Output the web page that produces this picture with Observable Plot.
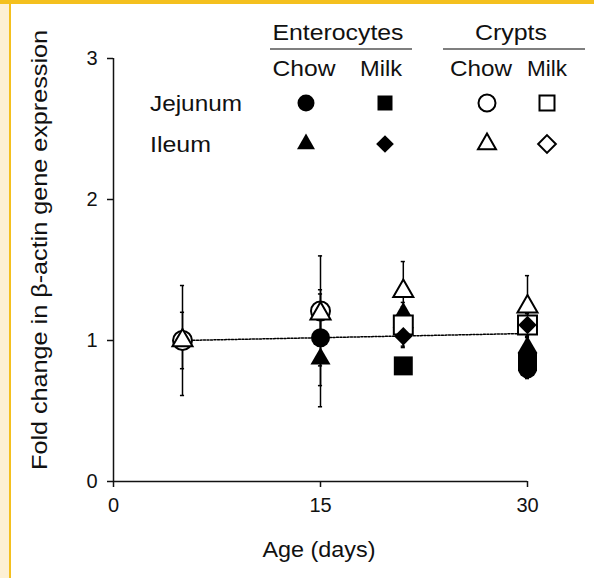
<!DOCTYPE html>
<html><head><meta charset="utf-8">
<script src="https://cdn.jsdelivr.net/npm/d3@7"></script>
<script src="https://cdn.jsdelivr.net/npm/@observablehq/plot@0.6"></script>
<style>
html,body{margin:0;padding:0;background:#fff;}
#wrap{position:relative;width:594px;height:578px;overflow:hidden;background:#fff;}
.deco{position:absolute;z-index:2;}
#chart{position:absolute;left:0;top:0;}
</style></head><body>
<div id="wrap">
  <div class="deco" style="left:0;top:0;width:9px;height:578px;background:#fdf0d4"></div>
  <div class="deco" style="left:9px;top:0;width:2px;height:578px;background:#f4c01e"></div>
  <div class="deco" style="left:0;top:0;width:594px;height:4px;background:#f4c01e"></div>
  <div id="chart"></div>
</div>
<script>
// ---- data ----
const ages = [5, 15, 21, 30];
const xTicks = [0, 15, 30];
const yTicks = [0, 1, 2, 3];

// mean fold change per age (null = not plotted)
const entChowJej = [null, 1.02, null, 0.80];
const entMilkJej = [null, null, 0.82, 0.85];
const cryChowJej = [1.00, 1.21, null, null];
const cryMilkJej = [null, null, 1.11, 1.11];
const entChowIle = [null, 0.87, 1.19, 0.95];
const entMilkIle = [null, null, 1.03, 1.11];
const cryChowIle = [1.00, 1.19, 1.35, 1.24];
const cryMilkIle = [null, null, 1.09, 1.10];

// error (SEM)
const entChowJejErr = [null, 0.34, null, 0.07];
const entMilkJejErr = [null, null, 0.04, 0.05];
const cryChowJejErr = [0.39, 0.39, null, null];
const cryMilkJejErr = [null, null, 0.16, 0.08];
const entChowIleErr = [null, 0.34, 0.05, 0.05];
const entMilkIleErr = [null, null, 0.07, 0.06];
const cryChowIleErr = [0.20, 0.14, 0.21, 0.22];
const cryMilkIleErr = [null, null, 0.05, 0.05];

// linear trend line
const trendAges = [5, 30];
const trendValues = [1.00, 1.05];

// text
const xLabel = "Age (days)";
const yLabel = "Fold change in \u03b2-actin gene expression";
const groups = ["Enterocytes", "Crypts"];
const diets = ["Chow", "Milk"];
const tissues = ["Jejunum", "Ileum"];

// ---- series definitions (draw order) ----
const series = [
  {group: "Crypts", diet: "Chow", tissue: "Jejunum", values: cryChowJej, errors: cryChowJejErr},
  {group: "Crypts", diet: "Chow", tissue: "Ileum", values: cryChowIle, errors: cryChowIleErr},
  {group: "Enterocytes", diet: "Chow", tissue: "Ileum", values: entChowIle, errors: entChowIleErr},
  {group: "Crypts", diet: "Milk", tissue: "Ileum", values: cryMilkIle, errors: cryMilkIleErr},
  {group: "Crypts", diet: "Milk", tissue: "Jejunum", values: cryMilkJej, errors: cryMilkJejErr},
  {group: "Enterocytes", diet: "Chow", tissue: "Jejunum", values: entChowJej, errors: entChowJejErr},
  {group: "Enterocytes", diet: "Milk", tissue: "Jejunum", values: entMilkJej, errors: entMilkJejErr},
  {group: "Enterocytes", diet: "Milk", tissue: "Ileum", values: entMilkIle, errors: entMilkIleErr}
];

// ---- styles ----
const FONT = "'Liberation Sans', Arial, Helvetica, sans-serif";
function shapeOf(s) {
  if (s.tissue === "Jejunum") return s.diet === "Chow" ? "circle" : "square";
  return s.diet === "Chow" ? "triangle" : "diamond2";
}
const plotR = {circle: 9.5, square: 10.7, triangle: 7.45, diamond2: 8.3};
const legendSize = {circle: 227, square: 225, triangle: 140, diamond2: 200};
const d3Sym = {circle: d3.symbolCircle, square: d3.symbolSquare, triangle: d3.symbolTriangle, diamond2: d3.symbolDiamond2};

const rows = [];
series.forEach((s, k) => {
  ages.forEach((a, i) => {
    if (s.values[i] != null) rows.push({k, age: a, value: s.values[i], err: s.errors[i] || 0});
  });
});
const trend = trendAges.map((a, i) => ({age: a, value: trendValues[i]}));

// ---- annotation / legend layer ----
function annotations(index, scales, values, dimensions) {
  const g = d3.create("svg:g").attr("font-family", FONT).attr("fill", "#111").attr("text-anchor", "middle");
  // y label
  g.append("text").attr("transform", "translate(47,250) rotate(-90)")
    .attr("text-anchor", "middle").attr("font-size", 22)
    .attr("textLength", 440).attr("lengthAdjust", "spacingAndGlyphs").text(yLabel);
  // x label
  g.append("text").attr("x", 319).attr("y", 557).attr("text-anchor", "middle")
    .attr("font-size", 22).attr("textLength", 113).attr("lengthAdjust", "spacingAndGlyphs").text(xLabel);
  // group headers
  const groupLayout = [
    {cx: 338, w: 131, l1: 270, l2: 412},
    {cx: 511, w: 72, l1: 443, l2: 585}
  ];
  const dietLayout = [
    [{cx: 304, w: 63}, {cx: 381, w: 42}],
    [{cx: 481, w: 62}, {cx: 547, w: 40}]
  ];
  const symX = [[306, 385], [487, 547]];
  const rowY = [103, 144];
  const tissueLayout = [{x: 150, w: 92}, {x: 150, w: 61}];
  groups.forEach((grp, gi) => {
    const L = groupLayout[gi];
    g.append("text").attr("x", L.cx).attr("y", 40).attr("text-anchor", "middle")
      .attr("font-size", 22).attr("textLength", L.w).attr("lengthAdjust", "spacingAndGlyphs").text(grp);
    g.append("line").attr("x1", L.l1).attr("x2", L.l2).attr("y1", 49).attr("y2", 49)
      .attr("stroke", "#555").attr("stroke-width", 1.5);
    diets.forEach((dt, di) => {
      const D = dietLayout[gi][di];
      g.append("text").attr("x", D.cx).attr("y", 76).attr("text-anchor", "middle")
        .attr("font-size", 22).attr("textLength", D.w).attr("lengthAdjust", "spacingAndGlyphs").text(dt);
      tissues.forEach((ts, ti) => {
        const s = series.find(q => q.group === grp && q.diet === dt && q.tissue === ts);
        const shp = shapeOf(s);
        const filled = grp === "Enterocytes";
        g.append("path").attr("transform", `translate(${symX[gi][di]},${rowY[ti]})`)
          .attr("d", d3.symbol(d3Sym[shp], legendSize[shp])())
          .attr("fill", filled ? "black" : "white")
          .attr("stroke", filled ? "none" : "black").attr("stroke-width", 2);
      });
    });
  });
  tissues.forEach((ts, ti) => {
    g.append("text").attr("x", tissueLayout[ti].x).attr("y", rowY[ti] + 8)
      .attr("text-anchor", "start")
      .attr("font-size", 22).attr("textLength", tissueLayout[ti].w).attr("lengthAdjust", "spacingAndGlyphs").text(ts);
  });
  return g.node();
}

const dotMarks = series.map((s, k) => {
  const shp = shapeOf(s);
  const filled = s.group === "Enterocytes";
  return Plot.dot(rows.filter(d => d.k === k), {
    x: "age", y: "value", symbol: shp, r: plotR[shp],
    fill: filled ? "black" : "white",
    stroke: filled ? "none" : "black", strokeWidth: 2
  });
});

const withErr = rows.filter(d => d.err > 0);

const chart = Plot.plot({
  width: 594, height: 578,
  marginLeft: 113, marginRight: 67, marginTop: 58, marginBottom: 97,
  style: {fontFamily: FONT, fontSize: "20px", color: "#111", background: "transparent"},
  x: {domain: [0, 30]},
  y: {domain: [0, 3]},
  marks: [
    Plot.axisY({ticks: yTicks, tickSize: 6, label: null, strokeWidth: 1.5, tickFormat: () => ""}),
    Plot.axisX({ticks: xTicks, tickSize: 6, label: null, strokeWidth: 1.5, tickFormat: () => ""}),
    Plot.text(yTicks, {x: 0, y: d => d, text: d => String(d), textAnchor: "end", dx: -16, fontSize: 20, fill: "#111"}),
    Plot.text(xTicks, {x: d => d, y: 0, text: d => String(d), frameAnchor: "bottom", lineAnchor: "top", dy: 16, fontSize: 20, fill: "#111"}),
    Plot.ruleX([0], {stroke: "#111", strokeWidth: 1.5}),
    Plot.ruleY([0], {stroke: "#111", strokeWidth: 1.5}),
    Plot.line(trend, {x: "age", y: "value", stroke: "black", strokeWidth: 1.5, strokeDasharray: "2,1.5"}),
    Plot.ruleX(withErr, {x: "age", y1: d => d.value - d.err, y2: d => d.value + d.err, stroke: "black", strokeWidth: 1.5}),
    Plot.ruleY(withErr, {y: d => d.value + d.err, x1: d => d.age - 0.15, x2: d => d.age + 0.15, stroke: "black", strokeWidth: 1.5}),
    Plot.ruleY(withErr, {y: d => d.value - d.err, x1: d => d.age - 0.15, x2: d => d.age + 0.15, stroke: "black", strokeWidth: 1.5}),
    ...dotMarks,
    annotations
  ]
});
document.getElementById("chart").appendChild(chart);
</script>
</body></html>
